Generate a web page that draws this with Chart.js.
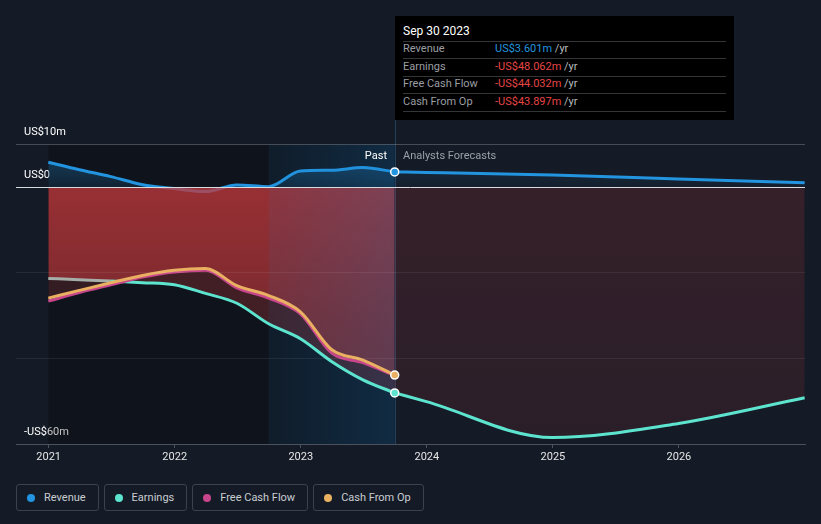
<!DOCTYPE html>
<html><head><meta charset="utf-8">
<script src="https://cdn.jsdelivr.net/npm/chart.js@4.4.1/dist/chart.umd.min.js"></script>
<style>
html,body{margin:0;padding:0;background:#151b26;width:821px;height:524px;overflow:hidden;font-family:Roboto,'Noto Sans',sans-serif;}
#wrap{position:relative;width:821px;height:524px;}
#c{position:absolute;left:0;top:0;}
.tt{position:absolute;left:395px;top:16px;width:339px;height:104px;background:#000;}
.tt .title{position:absolute;left:8px;top:8px;font-size:12px;line-height:14px;color:#fff;}
.tt .sep{position:absolute;left:8px;width:323px;height:1px;background:#343536;}
.tt .lab{position:absolute;left:8px;font-size:11px;line-height:14px;color:#9a9ea4;}
.tt .val{position:absolute;left:100px;font-size:11px;line-height:14px;color:#e84545;white-space:nowrap;}
.tt .val span{color:#b8bbbf;}
.past{position:absolute;right:434px;top:149px;font-size:11px;line-height:14px;color:#fff;}
.fc{position:absolute;left:403px;top:149px;font-size:11px;line-height:14px;color:#9aa0a8;}
.legend{position:absolute;left:16px;top:484px;display:flex;gap:5px;}
.legend .item{box-sizing:border-box;height:27px;border:1px solid #3b424e;border-radius:3px;padding:0 12px 0 10px;display:flex;align-items:center;font-size:11px;color:#c9cdd2;}
.legend .dot{width:8px;height:8px;border-radius:50%;margin-right:9px;}
</style></head>
<body>
<div id="wrap">
<canvas id="c" width="821" height="470"></canvas>
<div class="tt">
  <div class="title">Sep 30 2023</div>
  <div class="sep" style="top:25px"></div>
  <div class="lab" style="top:26px">Revenue</div><div class="val" style="top:26px;color:#2394df">US$3.601m <span>/yr</span></div>
  <div class="sep" style="top:42px"></div>
  <div class="lab" style="top:44px">Earnings</div><div class="val" style="top:44px">-US$48.062m <span>/yr</span></div>
  <div class="sep" style="top:60px"></div>
  <div class="lab" style="top:61px">Free Cash Flow</div><div class="val" style="top:61px">-US$44.032m <span>/yr</span></div>
  <div class="sep" style="top:77px"></div>
  <div class="lab" style="top:79px">Cash From Op</div><div class="val" style="top:79px">-US$43.897m <span>/yr</span></div>
  <div class="sep" style="top:95px"></div>
</div>
<div class="past">Past</div>
<div class="fc">Analysts Forecasts</div>
<div class="legend">
  <div class="item"><div class="dot" style="background:#2394df"></div>Revenue</div>
  <div class="item"><div class="dot" style="background:#5de4cf"></div>Earnings</div>
  <div class="item"><div class="dot" style="background:#c8468c"></div>Free Cash Flow</div>
  <div class="item"><div class="dot" style="background:#e9b062"></div>Cash From Op</div>
</div>
</div>
<script>
// ---- data (US$ millions) ----
const pastDates = ['2020-12-31','2021-03-31','2021-06-30','2021-09-30','2021-12-31','2022-03-31','2022-06-30','2022-09-30','2022-12-31','2023-03-31','2023-06-30','2023-09-30'];
const forecastDates = ['2023-09-30','2023-12-31','2024-12-31','2025-12-31','2026-12-31'];
const revenuePast = [5.84, 4.1, 2.5, 0.6, -0.3, -1.0, 0.55, 0.15, 3.8, 4.0, 4.6, 3.601];
const revenueForecast = [3.601, 3.47, 2.85, 1.95, 1.07];
const earningsPast = [-21.3, -21.6, -21.9, -22.3, -22.8, -24.8, -27.1, -31.9, -35.4, -40.7, -45.0, -48.062];
const earningsForecast = [-48.062, -50.1, -58.5, -55.2, -49.2];
const fcfPast = [-26.6, -24.6, -22.8, -21.0, -19.8, -19.4, -23.5, -25.9, -29.6, -38.7, -41.0, -44.032];
const cfoPast = [-25.9, -24.1, -22.3, -20.6, -19.4, -19.0, -23.0, -25.3, -29.1, -37.9, -40.4, -43.897];
const xTickYears = [2021, 2022, 2023, 2024, 2025, 2026];
const yTickValues = [-60, -40, -20, 0, 10];
const yTickLabels = {'10': 'US$10m', '0': 'US$0', '-60': '-US$60m'};
const highlightStartDate = '2022-09-30';
const xRange = [2020.741, 2027.0];
const yRange = [-60, 10];

function toYear(s) {
  const d = Date.UTC(+s.slice(0,4), +s.slice(5,7)-1, +s.slice(8,10));
  const y = +s.slice(0,4);
  const a = Date.UTC(y,0,1), b = Date.UTC(y+1,0,1);
  return y + (d - a) / (b - a);
}
function pts(dates, vals) { return dates.map((d,i) => ({x: toYear(d), y: vals[i]})); }

const C = {rev:'#2394df', earn:'#5de4cf', fcf:'#c8468c', cfo:'#e9b062', grey:'#a5aea9'};

function vGrad(ctx, stops) {
  const chart = ctx.chart; const ca = chart.chartArea;
  if (!ca) return stops[0][1];
  const ys = chart.scales.y;
  const g = chart.ctx.createLinearGradient(0, ys.getPixelForValue(stops[0][0]), 0, ys.getPixelForValue(stops[stops.length-1][0]));
  stops.forEach((s,i) => g.addColorStop(i/(stops.length-1), s[1]));
  return g;
}

const lastPast = pastDates.length - 1;
const pastEndX = toYear(pastDates[lastPast]);

const bands = {
  id: 'bands',
  beforeDatasetsDraw(chart) {
    const {ctx, chartArea: ca, scales: {x}} = chart;
    const x0 = x.getPixelForValue(toYear(pastDates[0]));
    const x1 = x.getPixelForValue(pastEndX);
    ctx.save();
    ctx.fillStyle = 'rgba(0,0,0,0.25)';
    ctx.fillRect(x0, ca.top, x1 - x0, ca.bottom - ca.top);
    ctx.restore();
  },
  afterDatasetDraw(chart, args) {
    if (args.index !== 4) return;
    const {ctx, chartArea: ca, scales: {x}} = chart;
    const h0 = x.getPixelForValue(toYear(highlightStartDate));
    const x1 = x.getPixelForValue(pastEndX);
    ctx.save();
    const g = ctx.createLinearGradient(h0, 0, x1, 0);
    g.addColorStop(0, 'rgba(20,130,210,0.08)');
    g.addColorStop(1, 'rgba(20,130,210,0.21)');
    ctx.fillStyle = g;
    ctx.fillRect(h0, ca.top, x1 - h0, ca.bottom - ca.top);
    ctx.strokeStyle = 'rgba(60,110,160,0.45)';
    ctx.lineWidth = 1;
    ctx.beginPath();
    ctx.moveTo(Math.round(x1) + 0.5, ca.top - 25);
    ctx.lineTo(Math.round(x1) + 0.5, ca.bottom);
    ctx.stroke();
    ctx.restore();
  }
};

const lineBase = {cubicInterpolationMode: 'monotone', pointRadius: 0, borderWidth: 3};

new Chart(document.getElementById('c'), {
  type: 'line',
  data: {
    datasets: [
      // 0 revenue past
      Object.assign({}, lineBase, {label:'Revenue', data: pts(pastDates, revenuePast), borderColor: C.rev, order: 10, fill: 'origin',
        backgroundColor: ctx => vGrad(ctx, [[8,'rgba(35,148,223,0.34)'],[0,'rgba(35,148,223,0.12)']])}),
      // 1 revenue forecast
      Object.assign({}, lineBase, {label:'Revenue f', data: pts(forecastDates, revenueForecast), borderColor: C.rev, order: 10, fill: 'origin',
        backgroundColor: ctx => vGrad(ctx, [[5,'rgba(35,148,223,0.12)'],[0,'rgba(35,148,223,0.04)']])}),
      // 2 earnings past bright fill
      Object.assign({}, lineBase, {label:'E fill', data: pts(pastDates, earningsPast), borderWidth: 0, borderColor: 'rgba(0,0,0,0)', order: 8, fill: 'origin',
        backgroundColor: ctx => vGrad(ctx, [[0,'rgba(195,57,60,0.76)'],[-30,'rgba(195,57,60,0.6)'],[-60,'rgba(195,57,60,0.5)']])}),
      // 3 earnings forecast line with weak fill
      Object.assign({}, lineBase, {label:'Earnings f', data: pts(forecastDates, earningsForecast), borderColor: C.earn, order: 3, fill: 'origin',
        backgroundColor: ctx => vGrad(ctx, [[0,'rgba(195,57,60,0.19)'],[-60,'rgba(195,57,60,0.12)']])}),
      // 4 band between cash from op and earnings
      Object.assign({}, lineBase, {label:'band', data: pts(pastDates, cfoPast), borderWidth: 0, borderColor: 'rgba(0,0,0,0)', order: 7, fill: 2,
        backgroundColor: 'rgba(58,30,36,0.88)'}),
      // 5 earnings past line
      Object.assign({}, lineBase, {label:'Earnings', data: pts(pastDates, earningsPast), borderColor: C.earn, order: 3, fill: false,
        segment: {borderColor: s => (earningsPast[s.p1DataIndex] > cfoPast[s.p1DataIndex] ? C.grey : undefined)}}),
      // 6 fcf
      Object.assign({}, lineBase, {label:'Free Cash Flow', data: pts(pastDates, fcfPast), borderColor: C.fcf, order: 2, fill: false}),
      // 7 cfo
      Object.assign({}, lineBase, {label:'Cash From Op', data: pts(pastDates, cfoPast), borderColor: C.cfo, order: 1, fill: false}),
      // 8-10 end points
      {label:'pr', data: [{x: pastEndX, y: revenuePast[lastPast]}], showLine: false, pointRadius: 4, pointBorderWidth: 1.5, pointBackgroundColor: C.rev, pointBorderColor: '#fff', order: 0},
      {label:'pe', data: [{x: pastEndX, y: earningsPast[lastPast]}], showLine: false, pointRadius: 4, pointBorderWidth: 1.5, pointBackgroundColor: C.earn, pointBorderColor: '#fff', order: 0},
      {label:'pc', data: [{x: pastEndX, y: cfoPast[lastPast]}], showLine: false, pointRadius: 4, pointBorderWidth: 1.5, pointBackgroundColor: C.cfo, pointBorderColor: '#fff', order: 0}
    ]
  },
  options: {
    responsive: false,
    animation: false,
    events: [],
    layout: {padding: {left: 0, right: 16, top: 144.5, bottom: 2.8}},
    plugins: {legend: {display: false}, tooltip: {enabled: false}, filler: {drawTime: 'beforeDatasetDraw'}},
    scales: {
      x: {
        type: 'linear', min: xRange[0], max: xRange[1],
        afterBuildTicks: s => { s.ticks = xTickYears.map(v => ({value: v})); },
        grid: {drawOnChartArea: false, drawTicks: true, tickLength: 4, color: '#4b525d'},
        border: {display: true, color: '#4b525d', width: 1},
        ticks: {color: '#e6e6e6', font: {family: 'Roboto', size: 11}, padding: 3, maxRotation: 0, autoSkip: false, callback: v => String(v)}
      },
      y: {
        type: 'linear', min: yRange[0], max: yRange[1],
        afterBuildTicks: s => { s.ticks = yTickValues.map(v => ({value: v})); },
        border: {display: false},
        grid: {z: 1, drawTicks: false,
          color: c => c.tick.value === 0 ? '#d9dcdf' : (c.tick.value === 10 ? 'rgba(255,255,255,0.22)' : (c.tick.value === -60 ? 'rgba(0,0,0,0)' : 'rgba(255,255,255,0.07)'))},
        ticks: {mirror: true, padding: 8, labelOffset: -12, color: '#ffffff', font: {family: 'Roboto', size: 11},
          callback: v => yTickLabels[String(v)] || ''}
      }
    }
  },
  plugins: [bands]
});
</script>
</body></html>
